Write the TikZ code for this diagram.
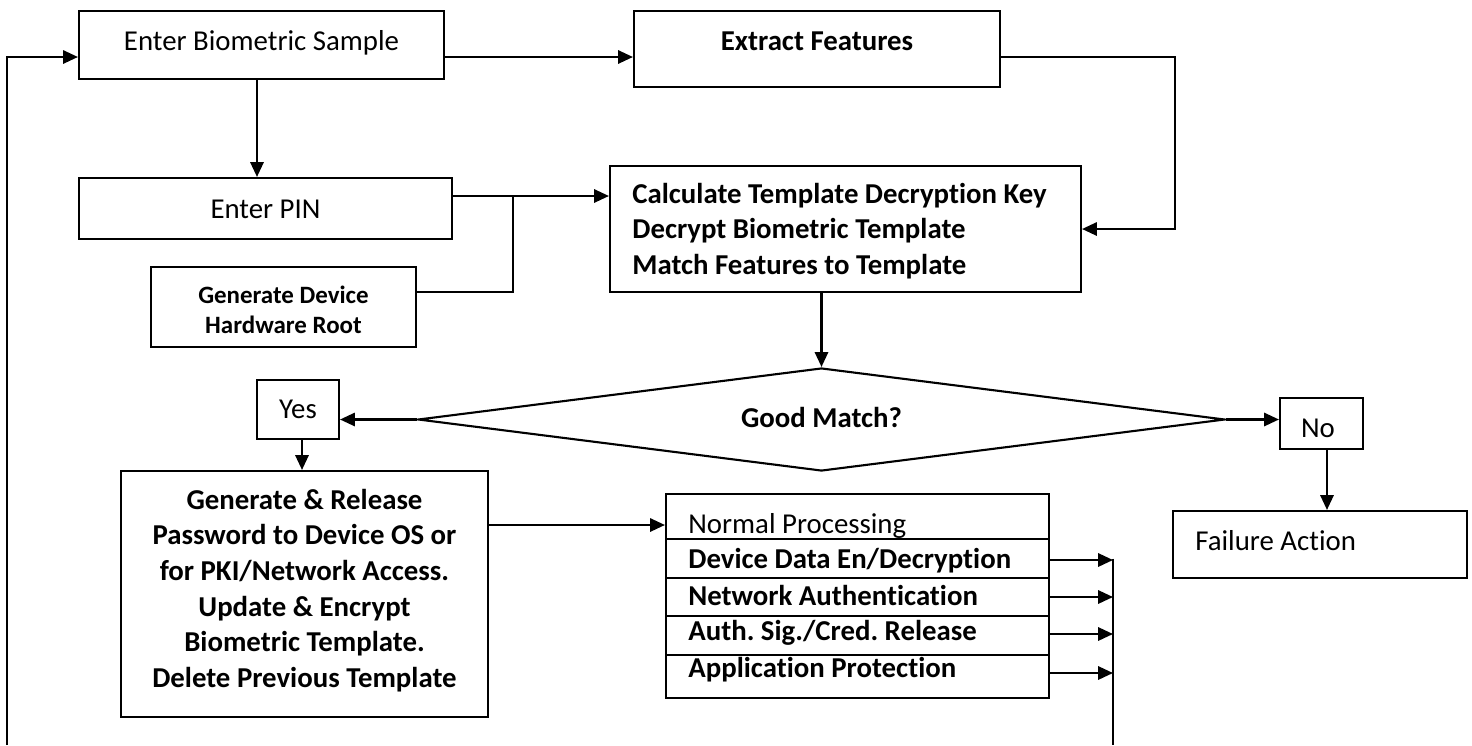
\documentclass[tikz,border=0pt]{standalone}
\usepackage{fontspec}
\setmainfont{Carlito}[Ligatures=NoCommon]
\usetikzlibrary{arrows.meta,shapes.geometric,calc}
\newcommand\fmain{\fontsize{16.4}{20.3}\selectfont}
\newcommand\fsml{\fontsize{14.2}{17}\selectfont}
\frenchspacing
\begin{document}
\begin{tikzpicture}[x=0.02cm,y=-0.02cm,
  box/.style={draw, line width=1.2pt, inner sep=0pt},
  sz/.style 2 args={minimum width=#1*0.02cm, minimum height=#2*0.02cm},
  txt/.style={inner sep=0pt, font=\fmain},
  btxt/.style={inner sep=0pt, font=\fmain\bfseries},
  arr/.style={line width=1.25pt, -{Triangle[length=8.5pt,width=7.6pt]}},
  ln/.style={line width=1.25pt},
  thin line/.style={line width=0.8pt}]
\useasboundingbox (0,0) rectangle (1472,745);

% boxes
\node[box,sz={365}{68}] (ebs) at (261.5,45) {};
\node[txt,anchor=base] (tebs) at (261.5,50) {Enter Biometric Sample};

\node[box,sz={366}{76}] (ef) at (817,49) {};
\node[btxt,anchor=base] (tef) at (817,50) {Extract Features};

\node[box,sz={373}{61}] (pin) at (265.5,208.5) {};
\node[txt,anchor=base] (tpin) at (265.5,218) {Enter PIN};

\node[box,sz={265}{80}] (gdev) at (283.5,307) {};
\node[inner sep=0pt,anchor=north,align=center,font=\fsml\bfseries] (tgdev) at (283.5,282)
  {\strut Generate Device\\Hardware Root\strut};

\node[box,sz={471}{126}] (calc) at (845.5,229) {};
\node[btxt,anchor=north west,align=left] (tcalc) at (632,177.8)
  {\strut Calculate Template Decryption Key\\Decrypt Biometric Template\\Match Features to Template\strut};

\node[draw,diamond,line width=1.2pt,inner sep=0pt,sz={807}{103}] (gm) at (821.5,419.5) {};
\node[btxt,anchor=base] (tgm) at (821.5,427) {Good Match?};

\node[box,sz={82}{59}] (yes) at (298,409.5) {};
\node[txt,anchor=base] (tyes) at (298,418) {Yes};

\node[box,sz={83}{51}] (no) at (1321.5,423.5) {};
\node[txt,anchor=base] (tno) at (1318,437) {No};

\node[box,sz={294}{67}] (fail) at (1320,544.5) {};
\node[txt,anchor=base west] (tfail) at (1195,550) {Failure Action};

\node[box,sz={367}{246}] (gr) at (304.5,594) {};
\node[btxt,anchor=north,align=center] (tgr) at (304.5,483.9)
  {\strut Generate \& Release\\Password to Device OS or\\for PKI/Network Access.\\Update \& Encrypt\\Biometric Template.\\Delete Previous Template\strut};

\node[box,sz={383}{45}] (np1) at (857.5,516.5) {};
\node[box,sz={383}{39}] (np2) at (857.5,558.5) {};
\node[box,sz={383}{38}] (np3) at (857.5,597) {};
\node[box,sz={383}{39}] (np4) at (857.5,635.5) {};
\node[box,sz={383}{43}] (np5) at (857.5,676.5) {};
\node[txt,anchor=base west] (tnp1) at (688,533) {Normal Processing};
\node[btxt,anchor=base west] (tnp2) at (688,568) {Device Data En/Decryption};
\node[btxt,anchor=base west] (tnp3) at (688,605) {Network Authentication};
\node[btxt,anchor=base west] (tnp4) at (688,640) {Auth. Sig./Cred. Release};
\node[btxt,anchor=base west] (tnp5) at (688,677) {Application Protection};

% helper coordinates
\coordinate (fbb) at (7,745);
\coordinate (busb) at (1113,745);
\coordinate (j) at (513,196);
\coordinate (ebsd) at ($(ebs.south)+(-4.5,0)$);
\coordinate (nod) at ($(no.south)+(5.5,0)$);
\coordinate (yesd) at ($(yes.south)+(4,0)$);
\coordinate (gro) at ($(gr.east)+(0,-69)$);

% connectors
\draw[arr] (fbb) |- ($(ebs.west)+(0,12)$);
\draw[arr] ($(ebs.east)+(0,12)$) -- ($(ef.west)+(0,8)$);
\draw[arr] ($(ef.east)+(0,8)$) -| ($(calc.east)+(93,0)$) -- (calc.east);
\draw[arr] (ebsd) -- (ebsd |- pin.north);
\draw[ln] (pin.east |- j) -- (j);
\draw[arr] (j) -- (calc.west |- j);
\draw[thin line] ($(gdev.east)+(0,-15)$) -| (j);
\draw[arr] (gm.north |- calc.south) -- (gm.north);
\draw[arr] (gm.west) -- (yes.east |- gm.west);
\draw[arr] (gm.east) -- (no.west |- gm.east);
\draw[arr] (nod) -- (nod |- fail.north);
\draw[arr] (yesd) -- (yesd |- gr.north);
\draw[arr] (gro) -- (gro -| np1.west);
\draw[ln] (busb |- np2.east) -- (busb);
\draw[arr] ($(np2.east)+(0,1.5)$) -- ($(np2.east -| busb)+(0,1.5)$);
\draw[arr] (np3.east) -- (np3.east -| busb);
\draw[arr] ($(np4.east)+(0,-1.5)$) -- ($(np4.east -| busb)+(0,-1.5)$);
\draw[arr] ($(np5.east)+(0,-3.5)$) -- ($(np5.east -| busb)+(0,-3.5)$);
\end{tikzpicture}
\end{document}
